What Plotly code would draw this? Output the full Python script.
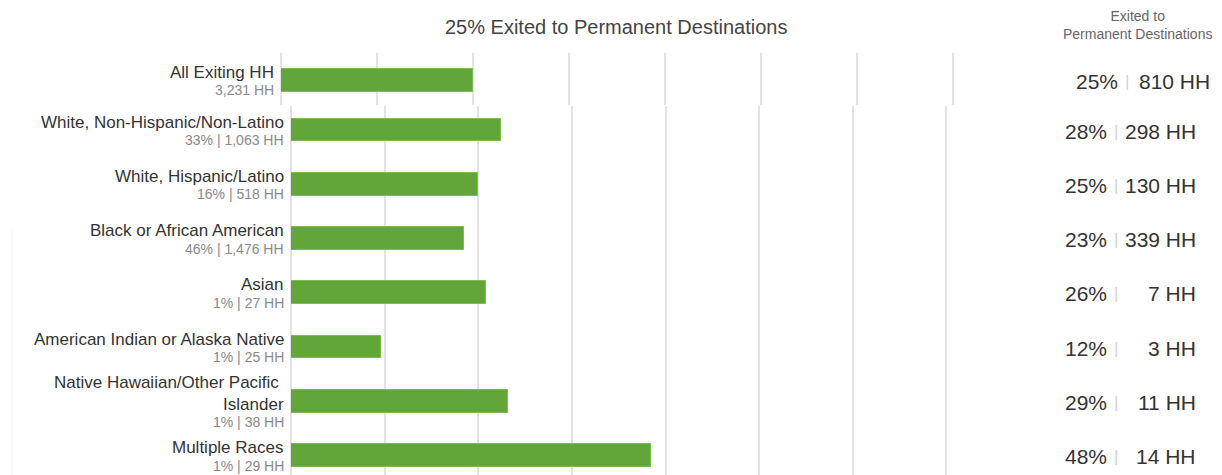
import plotly.graph_objects as go

# ---- data -------------------------------------------------------------
groups = [
    "All Exiting HH",
    "White, Non-Hispanic/Non-Latino",
    "White, Hispanic/Latino",
    "Black or African American",
    "Asian",
    "American Indian or Alaska Native",
    "Native Hawaiian/Other Pacific\u00a0<br>Islander",
    "Multiple Races",
]
share_of_exits = [None, 33, 16, 46, 1, 1, 1, 1]          # % of all exiting HH
hh_exiting = [3231, 1063, 518, 1476, 27, 25, 38, 29]    # HH exiting
pct_permanent = [25, 28, 25, 23, 26, 12, 29, 48]        # % exited to permanent
hh_permanent = [810, 298, 130, 339, 7, 3, 11, 14]       # HH exited to permanent

grid_ticks = [0, 12.5, 25, 37.5, 50, 62.5, 75, 87.5, 100]
title_text = "25% Exited to Permanent Destinations"
side_header = "Exited to<br>Permanent Destinations"

# ---- styling ----------------------------------------------------------
W, H = 1222, 475
FONT = "Liberation Sans, Arial, Helvetica, sans-serif"
GREEN = "#62a63a"
GRID = "#e3e3e3"
ROW_PX = 54.25


def px_x(p):
    return p / W


def px_y(p):
    return 1 - p / H


fig = go.Figure()

# total row (own panel)
fig.add_trace(go.Bar(
    x=[pct_permanent[0]], y=[0], orientation="h", width=0.42,
    marker=dict(color=GREEN, line=dict(color="#7dbb55", width=1)),
    xaxis="x", yaxis="y", hoverinfo="skip", showlegend=False,
))
# breakdown rows
fig.add_trace(go.Bar(
    x=pct_permanent[1:], y=list(range(1, len(groups))), orientation="h", width=0.42,
    marker=dict(color=GREEN, line=dict(color="#7dbb55", width=1)),
    xaxis="x2", yaxis="y2", hoverinfo="skip", showlegend=False,
))

axis_common = dict(
    range=[-0.06, 100.06], tickvals=grid_ticks, showticklabels=False,
    showgrid=True, gridcolor=GRID, gridwidth=1.5,
    zeroline=True, zerolinecolor=GRID, zerolinewidth=1.5,
    showline=False, ticks="", fixedrange=True,
)

top_px, mid_px = 53, 105
total_center = 80.5
first_center = 130

fig.update_layout(
    width=W, height=H,
    margin=dict(l=0, r=0, t=0, b=0),
    paper_bgcolor="white", plot_bgcolor="white",
    font=dict(family=FONT, color="#333333"),
    bargap=0,
    xaxis=dict(domain=[px_x(281), px_x(1049)], anchor="y", **axis_common),
    xaxis2=dict(domain=[px_x(291), px_x(1040)], anchor="y2", **axis_common),
    yaxis=dict(
        domain=[px_y(mid_px), px_y(top_px)], anchor="x",
        range=[(mid_px - total_center) / ROW_PX, -(total_center - top_px) / ROW_PX],
        showticklabels=False, showgrid=False, zeroline=False, fixedrange=True,
    ),
    yaxis2=dict(
        domain=[0, px_y(mid_px + 1)], anchor="x2",
        range=[1 + (H - first_center) / ROW_PX, 1 - (first_center - mid_px - 1) / ROW_PX],
        showticklabels=False, showgrid=False, zeroline=False, fixedrange=True,
    ),
)

ann = []

# chart title
ann.append(dict(text=title_text, xref="paper", yref="paper",
                x=px_x(616), y=px_y(27), xanchor="center", yanchor="middle",
                showarrow=False, font=dict(size=20, color="#444444")))
# side column header
ann.append(dict(text=side_header, xref="paper", yref="paper",
                x=px_x(1137), y=px_y(25), xanchor="center", yanchor="middle",
                showarrow=False, font=dict(size=14, color="#666666")))

for i, name in enumerate(groups):
    top = i == 0
    yref = "y" if top else "y2"
    label_x = px_x(276 if top else 286)
    n_lines = name.count("<br>") + 1

    # group name
    ann.append(dict(text=name, xref="paper", yref=yref, x=label_x, y=i,
                    xanchor="right", yanchor="middle", align="right",
                    yshift=8, showarrow=False,
                    font=dict(size=17, color="#333333")))
    # group size
    if share_of_exits[i] is None:
        sub = f"{hh_exiting[i]:,} HH"
    else:
        sub = f"{share_of_exits[i]}% | {hh_exiting[i]:,} HH"
    ann.append(dict(text=sub, xref="paper", yref=yref, x=label_x, y=i,
                    xanchor="right", yanchor="middle", align="right",
                    yshift=-(10 + 11 * (n_lines - 1)), showarrow=False,
                    font=dict(size=14, color="#8a8a8a")))

    # side column values
    pct_x = px_x(1120 if top else 1109)
    sep_x = px_x(1127 if top else 1116)
    hh_x = px_x(1212 if top else 1198)
    ann.append(dict(text=f"{pct_permanent[i]}%", xref="paper", yref=yref,
                    x=pct_x, y=i, xanchor="right", yanchor="middle",
                    yshift=-1, showarrow=False,
                    font=dict(size=21, color="#333333")))
    ann.append(dict(text="|", xref="paper", yref=yref,
                    x=sep_x, y=i, xanchor="center", yanchor="middle",
                    yshift=-1, showarrow=False,
                    font=dict(size=17, color="#d2d2d2")))
    ann.append(dict(text=f"{hh_permanent[i]} HH", xref="paper", yref=yref,
                    x=hh_x, y=i, xanchor="right", yanchor="middle",
                    yshift=-1, showarrow=False,
                    font=dict(size=21, color="#333333")))

fig.update_layout(annotations=ann)

# faint panel edge on the far left
fig.add_shape(type="line", xref="paper", yref="paper",
              x0=px_x(12), x1=px_x(12), y0=px_y(230), y1=0,
              line=dict(color="#f3f3f3", width=1))

fig.write_html("out.html")
